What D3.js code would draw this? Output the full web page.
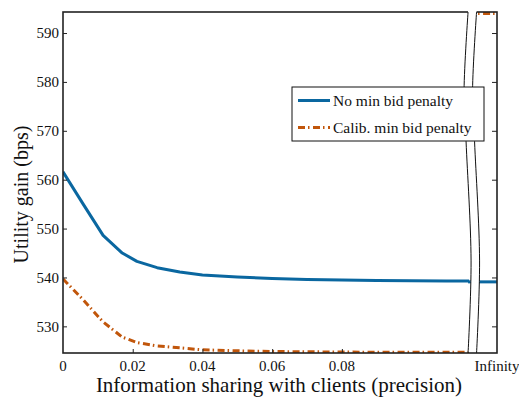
<!DOCTYPE html>
<html>
<head>
<meta charset="utf-8">
<script src="https://cdn.jsdelivr.net/npm/d3@7"></script>
<style>
  body { margin: 0; background: #fff; }
  text { font-family: "Liberation Serif", "Times New Roman", serif; fill: #111; }
</style>
</head>
<body>
<div id="chart"></div>
<script>
// values
const precision = [0, 0.0057, 0.0115, 0.017, 0.0212, 0.027, 0.0335, 0.04, 0.05, 0.06, 0.07, 0.08, 0.09, 0.1, 0.11, 0.1165];
const noPenalty = [561.6, 555.1, 548.6, 545.0, 543.3, 542.0, 541.1, 540.5, 540.1, 539.8, 539.6, 539.5, 539.4, 539.35, 539.3, 539.3];
const calibPenalty = [539.7, 535.5, 530.9, 527.8, 526.7, 526.0, 525.6, 525.2, 525.0, 524.85, 524.8, 524.75, 524.7, 524.7, 524.7, 524.7];
// value at "Infinity", drawn after the axis break
const infNoPenalty = 539.1;
const infCalib = 594.0;

const xTicks = [0, 0.02, 0.04, 0.06, 0.08];
const xTickLabels = ["0", "0.02", "0.04", "0.06", "0.08"];
const yTicks = [530, 540, 550, 560, 570, 580, 590];
const seriesNames = ["No min bid penalty", "Calib. min bid penalty"];

const xDomain = [0, 0.1245];
const yDomain = [524.55, 594.3];
const breakAt = 0.1162;

const margin = { top: 12, right: 22, bottom: 44, left: 63 };
const W = 519, H = 397;
const width = W - margin.left - margin.right;
const height = H - margin.top - margin.bottom;

const blue = "#0a67a0", orange = "#c1560b";

const svg = d3.select("#chart").append("svg")
  .attr("width", W).attr("height", H);
const g = svg.append("g")
  .attr("transform", `translate(${margin.left},${margin.top})`);

const x = d3.scaleLinear().domain(xDomain).range([0, width]);
const y = d3.scaleLinear().domain(yDomain).range([height, 0]);

g.append("clipPath").attr("id", "clip")
  .append("rect").attr("width", width).attr("height", height);

const line = d3.line().x(d => x(d[0])).y(d => y(d[1]));
const plot = g.append("g").attr("clip-path", "url(#clip)");

const series = [
  { vals: noPenalty, inf: infNoPenalty, color: blue, dash: null },
  { vals: calibPenalty, inf: infCalib, color: orange, dash: "7,3,1.5,3.5" }
];

series.forEach(s => {
  plot.append("path")
    .datum(precision.map((p, i) => [p, s.vals[i]]))
    .attr("d", line)
    .attr("fill", "none").attr("stroke", s.color)
    .attr("stroke-width", 3).attr("stroke-linejoin", "round")
    .attr("stroke-dasharray", s.dash);
  plot.append("path")
    .datum([[breakAt, s.inf], [xDomain[1], s.inf]])
    .attr("d", line)
    .attr("fill", "none").attr("stroke", s.color)
    .attr("stroke-width", 3).attr("stroke-dasharray", s.dash);
});

// frame
g.append("rect").attr("width", width).attr("height", height)
  .attr("fill", "none").attr("stroke", "#222").attr("stroke-width", 1.6);

// ticks, drawn inward
g.append("g").call(d3.axisLeft(y).tickValues(yTicks).tickSize(-4).tickFormat(""))
  .call(a => a.select(".domain").remove());
g.append("g").attr("transform", `translate(${width},0)`)
  .call(d3.axisRight(y).tickValues(yTicks).tickSize(-5).tickFormat(""))
  .call(a => a.select(".domain").remove());
g.append("g").attr("transform", `translate(0,${height})`)
  .call(d3.axisBottom(x).tickValues(xTicks.slice(1)).tickSize(-4).tickFormat(""))
  .call(a => a.select(".domain").remove());
g.selectAll(".tick line").attr("stroke", "#222");

// tick labels
g.selectAll(".ylab").data(yTicks).join("text")
  .attr("x", -4).attr("y", d => y(d)).attr("dy", "0.35em")
  .attr("text-anchor", "end").style("font-size", "15px").text(d => d);
g.selectAll(".xlab").data(xTicks).join("text")
  .attr("x", d => x(d)).attr("y", height + 18)
  .attr("text-anchor", "middle").style("font-size", "15px")
  .text((d, i) => xTickLabels[i]);
g.append("text").attr("x", width).attr("y", height + 18)
  .attr("text-anchor", "middle").style("font-size", "15px").text("Infinity");

// axis break: two wavy lines with white between them
const wave = [[0, 0], [-4, 0.23], [-2, 0.38], [3, 0.73], [0, 1]];
const bx = x(breakAt);
const gap = 8.5;
const left = wave.map(d => [bx + d[0], d[1] * height]);
const right = wave.map(d => [bx + d[0] + gap, d[1] * height]);
const curve = d3.line().curve(d3.curveCatmullRom);
g.append("path")
  .attr("d", curve(left) + "L" + curve(right.slice().reverse()).slice(1) + "Z")
  .attr("fill", "#fff").attr("stroke", "none")
  .attr("transform", "translate(0,-1)");
[left, right].forEach(pts => {
  g.append("path").attr("d", curve(pts))
    .attr("fill", "none").attr("stroke", "#111").attr("stroke-width", 1);
});

// legend
const lg = g.append("g").attr("transform", `translate(${292 - margin.left},${87 - margin.top})`);
lg.append("rect").attr("width", 192).attr("height", 54)
  .attr("fill", "#fff").attr("stroke", "#111").attr("stroke-width", 1);
series.forEach((s, i) => {
  const yy = 13.5 + i * 27;
  lg.append("line").attr("x1", 6).attr("x2", 38).attr("y1", yy).attr("y2", yy)
    .attr("stroke", s.color).attr("stroke-width", 3).attr("stroke-dasharray", s.dash);
  lg.append("text").attr("x", 41).attr("y", yy).attr("dy", "0.33em")
    .style("font-size", "15.5px").text(seriesNames[i]);
});

// axis titles
svg.append("text")
  .attr("x", margin.left + width / 2 - 1).attr("y", 392)
  .attr("text-anchor", "middle").style("font-size", "21px")
  .text("Information sharing with clients (precision)");
svg.append("text")
  .attr("transform", `translate(28,${margin.top + height / 2 + 12}) rotate(-90)`)
  .attr("text-anchor", "middle").style("font-size", "20px")
  .text("Utility gain (bps)");
</script>
</body>
</html>
